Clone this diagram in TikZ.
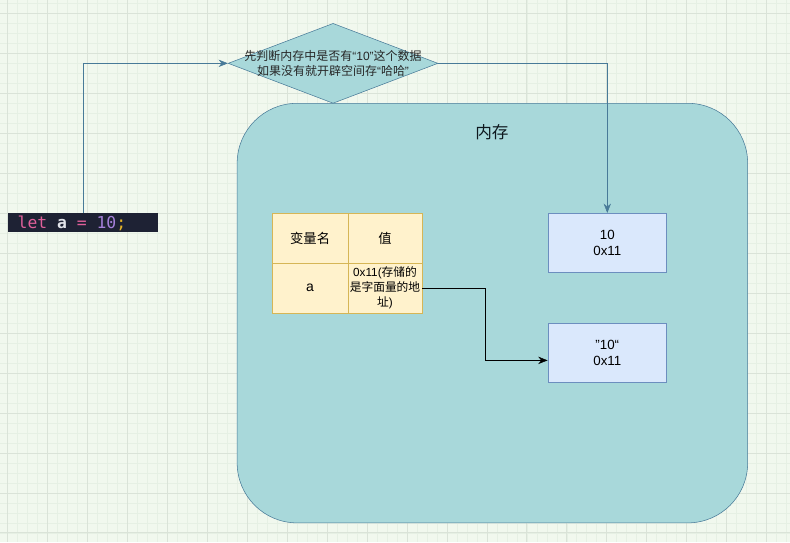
\documentclass[tikz,border=0pt]{standalone}
\usepackage{fontspec}
\setmainfont{Liberation Sans}
\newfontfamily\cjk{Noto Sans CJK SC}
\newfontfamily\codefont{DejaVu Sans Mono}
\usetikzlibrary{shapes.geometric,arrows.meta}
\definecolor{gridbg}{RGB}{241,248,238}
\definecolor{gridminor}{RGB}{230,240,228}
\definecolor{gridmajor}{RGB}{218,227,216}
\definecolor{memfill}{RGB}{168,216,218}
\definecolor{memline}{RGB}{72,122,152}
\definecolor{cellfill}{RGB}{255,242,204}
\definecolor{cellline}{RGB}{214,182,86}
\definecolor{boxfill}{RGB}{218,232,252}
\definecolor{boxline}{RGB}{108,142,191}
\definecolor{codebg}{RGB}{30,34,52}
\definecolor{codepink}{RGB}{224,96,154}
\definecolor{codewhite}{RGB}{226,228,234}
\definecolor{codepurple}{RGB}{165,128,218}
\definecolor{codeyellow}{RGB}{230,180,40}

\tikzset{
  cell/.style={draw=cellline, fill=cellfill, minimum height=50*0.75pt, inner sep=0pt, font=\cjk\fontsize{10}{12}\selectfont, align=center},
  memcell/.style={draw=boxline, fill=boxfill, minimum width=119*0.75pt, minimum height=59*0.75pt, font=\fontsize{10}{12}\selectfont, align=center},
  link/.style={draw=memline, -{Stealth[length=7pt,width=5.5pt]}},
}

\begin{document}
\begin{tikzpicture}[x=0.75pt, y=-0.75pt]
        \fill[gridbg] (0,0) rectangle (790,542);
        \foreach \x in {7,17,...,787} \draw[gridminor, line width=0.5pt] (\x,0) -- (\x,542);
        \foreach \y in {3,13,...,533} \draw[gridminor, line width=0.5pt] (0,\y) -- (790,\y);
        \foreach \x in {7,47,...,787} \draw[gridmajor, line width=0.6pt] (\x,0) -- (\x,542);
        \foreach \y in {13,53,...,533} \draw[gridmajor, line width=0.6pt] (0,\y) -- (790,\y);
        \useasboundingbox (0,0) rectangle (790,542);

        % memory area
        \node[draw=memline, fill=memfill, rounded corners=45pt, minimum width=511*0.75pt, minimum height=420*0.75pt] (mem) at (492.5, 313) {};
        \node[text=black!80!memline, font=\cjk\fontsize{12.5}{14}\selectfont] (memtitle) at (492, 132) {内存};

        % decision
        \node[diamond, draw=memline, fill=memfill, aspect=2.625, inner sep=0pt, minimum width=210*0.75pt, minimum height=80*0.75pt] (dia) at (333, 63) {};
        \node[font=\fontsize{9}{11}\selectfont, align=center, text=black!85] (diatext) at (333, 63)
          {{\cjk 先判断内存中是否有}“10”{\cjk 这个数据}\\{\cjk 如果没有就开辟空间存}“{\cjk 哈哈}”};

        % code
        \node[fill=codebg, minimum width=150*0.75pt, minimum height=19*0.75pt, inner sep=0pt] (code) at (83, 222.5) {};
        \node[anchor=west, inner sep=0pt, font=\codefont\fontsize{12.3}{14}\selectfont] (codetext) at (17, 223)
          {\color{codepink}let \color{codewhite}\textbf{a} \color{codepink}= \color{codepurple}10\color{codeyellow};};

        % variable table
        \node[cell, minimum width=76*0.75pt] (hName) at (310, 238) {变量名};
        \node[cell, minimum width=74*0.75pt] (hVal) at (385, 238) {值};
        \node[cell, minimum width=76*0.75pt, font=\fontsize{10.5}{12}\selectfont] (cName) at (310, 288) {a};
        \node[cell, minimum width=74*0.75pt, font=\fontsize{8.8}{11.2}\selectfont] (cVal) at (385, 288)
          {0x11({\cjk 存储的}\\{\cjk 是字面量的地}\\{\cjk 址})};

        % memory cells
        \node[memcell] (num) at (607.5, 242.5) {10\\0x11};
        \node[memcell] (str) at (607.5, 353) {”10“\\0x11};

        \draw[link] (code.north) |- (dia.west);
        \draw[link] (dia.east) -| (num.north);
        \draw[link, draw=black] (cVal.east) -- ++(63,0) |- ([yshift=-5.5pt]str.west);
\end{tikzpicture}
\end{document}
